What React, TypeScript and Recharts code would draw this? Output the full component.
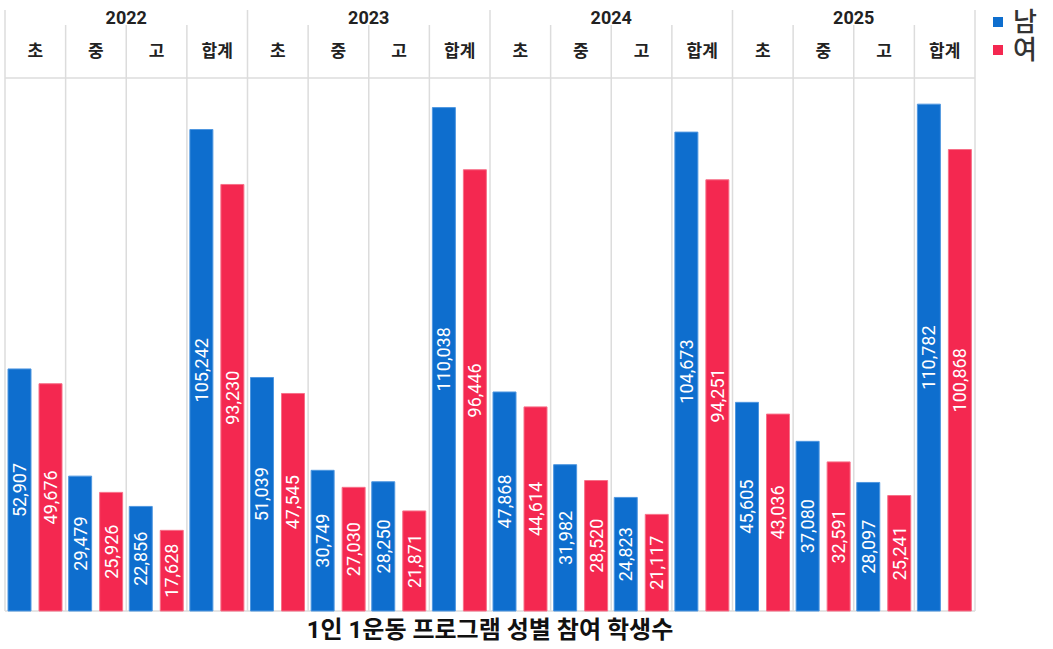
import { Bar, BarChart, CartesianGrid, LabelList, XAxis, YAxis } from "recharts";

const years = ["2022", "2023", "2024", "2025"];
const levels = ["초", "중", "고", "합계"];
const maleCounts = [
  52907, 29479, 22856, 105242, 51039, 30749, 28250, 110038, 47868, 31982, 24823, 104673, 45605,
  37080, 28097, 110782,
];
const femaleCounts = [
  49676, 25926, 17628, 93230, 47545, 27030, 21871, 96446, 44614, 28520, 21117, 94251, 43036, 32591,
  25241, 100868,
];
const seriesNames = { male: "남", female: "여" };
const chartTitle = "1인 1운동 프로그램 성별 참여 학생수";

const CHART_W = 1053;
const CHART_H = 649;
const MARGIN = { top: 0, right: 78, bottom: 38, left: 5 };
const HEADER_H = 78;
const PLOT_BOTTOM = CHART_H - MARGIN.bottom;
const BAND = (CHART_W - MARGIN.left - MARGIN.right) / (years.length * levels.length);

const BLUE = "#0e6ece";
const RED = "#f42850";
const GRID = "#dcdcdc";
const FONT = "Roboto, 'Noto Sans CJK KR', sans-serif";

const chartData = years.flatMap((year, yi) =>
  levels.map((level, li) => {
    const i = yi * levels.length + li;
    return {
      key: `${year}-${level}`,
      year,
      level,
      male: maleCounts[i],
      female: femaleCounts[i],
    };
  }),
);

const HeaderTick = (props: any) => {
  const { x, payload, index } = props;
  const half = typeof payload?.offset === "number" && payload.offset > 0 ? payload.offset : BAND / 2;
  const left = x - half;
  const right = x + half;
  const row = chartData[index];
  const yearStart = index % levels.length === 0;
  const last = index === chartData.length - 1;

  return (
    <g>
      <line
        x1={left}
        x2={left}
        y1={yearStart ? 10 : 25}
        y2={PLOT_BOTTOM}
        stroke={GRID}
        strokeWidth={1.5}
      />
      {last && (
        <line x1={right} x2={right} y1={10} y2={PLOT_BOTTOM} stroke={GRID} strokeWidth={1.5} />
      )}
      {yearStart && (
        <text
          x={left + half * levels.length}
          y={24}
          textAnchor="middle"
          fill="#222"
          fontSize={18}
          fontWeight={700}
          fontFamily={FONT}
        >
          {row.year}
        </text>
      )}
      <text
        x={x}
        y={57}
        textAnchor="middle"
        fill="#222"
        fontSize={17}
        fontWeight={700}
        fontFamily={FONT}
      >
        {row.level}
      </text>
    </g>
  );
};

const legendItems = [
  { name: seriesNames.male, color: BLUE },
  { name: seriesNames.female, color: RED },
];

const formatCount = (value: any) => Number(value).toLocaleString("en-US");

export default function App() {
  return (
    <div style={{ position: "absolute", left: 0, top: 0, width: CHART_W, height: CHART_H, background: "#fff" }}>
      <BarChart
        width={CHART_W}
        height={CHART_H}
        data={chartData}
        margin={MARGIN}
        barCategoryGap={3}
        barGap={8}
      >
        <CartesianGrid
          vertical={false}
          stroke={GRID}
          strokeWidth={1.5}
          horizontalCoordinatesGenerator={({ offset }: any) => [offset.top, offset.top + offset.height]}
        />
        <XAxis
          dataKey="key"
          orientation="top"
          height={HEADER_H}
          axisLine={false}
          tickLine={false}
          interval={0}
          tick={<HeaderTick />}
        />
        <YAxis hide domain={[0, 116500]} />
        <Bar dataKey="male" name={seriesNames.male} fill={BLUE} stroke="#4f97e0" strokeWidth={1} isAnimationActive={false}>
          <LabelList
            dataKey="male"
            position="center"
            angle={-90}
            fill="#fff"
            fontSize={18}
            fontFamily={FONT}
            formatter={formatCount}
          />
        </Bar>
        <Bar dataKey="female" name={seriesNames.female} fill={RED} stroke="#f77088" strokeWidth={1} isAnimationActive={false}>
          <LabelList
            dataKey="female"
            position="center"
            angle={-90}
            fill="#fff"
            fontSize={18}
            fontFamily={FONT}
            formatter={formatCount}
          />
        </Bar>
      </BarChart>

      <div style={{ position: "absolute", left: 993, top: 8, fontFamily: FONT }}>
        {legendItems.map((item) => (
          <div key={item.name} style={{ display: "flex", alignItems: "center", height: 28, color: "#333" }}>
            <span
              style={{ width: 10, height: 10, background: item.color, marginRight: 10, display: "inline-block" }}
            />
            <span style={{ fontSize: 26, lineHeight: "28px", fontWeight: 500 }}>{item.name}</span>
          </div>
        ))}
      </div>

      <div
        style={{
          position: "absolute",
          left: MARGIN.left,
          top: 615,
          width: CHART_W - MARGIN.left - MARGIN.right,
          textAlign: "center",
          fontSize: 24,
          lineHeight: "30px",
          fontWeight: 700,
          fontFamily: FONT,
          color: "#111",
        }}
      >
        {chartTitle}
      </div>
    </div>
  );
}
